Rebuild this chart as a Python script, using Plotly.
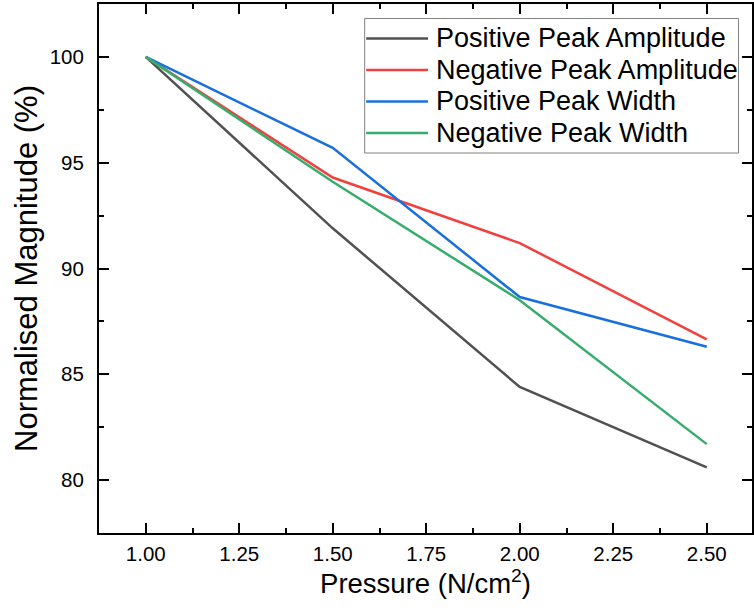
import plotly.graph_objects as go

pressure = [1.0, 1.5, 2.0, 2.5]
pos_peak_amp = [100, 91.9, 84.4, 80.6]
neg_peak_amp = [100, 94.3, 91.2, 86.65]
pos_peak_width = [100, 95.7, 88.65, 86.3]
neg_peak_width = [100, 94.1, 88.5, 81.7]

series_names = ["Positive Peak Amplitude", "Negative Peak Amplitude",
                "Positive Peak Width", "Negative Peak Width"]
series_values = [pos_peak_amp, neg_peak_amp, pos_peak_width, neg_peak_width]
series_colors = ["#515151", "#F14040", "#1A6FDF", "#37AD6B"]

FONT = "Liberation Sans, Arial, sans-serif"
W, H = 754, 612
ML, MR, MT, MB = 99, 0, 4, 79
PW, PH = W - ML - MR, H - MT - MB


def px_x(px):
    return (px - ML) / PW


def px_y(py):
    return (H - MB - py) / PH


fig = go.Figure()
for name, vals, col in zip(series_names, series_values, series_colors):
    fig.add_trace(go.Scatter(x=pressure, y=vals, mode="lines", name=name,
                             line=dict(color=col, width=2.5)))

axis_common = dict(
    showline=True, linecolor="black", linewidth=2, mirror="ticks",
    ticks="inside", ticklen=10, tickwidth=2, tickcolor="black",
    showgrid=False, zeroline=False,
    tickfont=dict(family=FONT, size=20.5, color="black"),
)

# legend (drawn as box + sample lines + text)
shapes = [dict(type="rect", xref="paper", yref="paper",
               x0=px_x(365.5), x1=px_x(740.5), y0=px_y(153), y1=px_y(18.5),
               line=dict(color="#808080", width=1), fillcolor="white", layer="above")]
annotations = []
row_y = [38.5, 70, 101.5, 133]
for name, col, ry in zip(series_names, series_colors, row_y):
    shapes.append(dict(type="line", xref="paper", yref="paper",
                       x0=px_x(367), x1=px_x(429), y0=px_y(ry), y1=px_y(ry),
                       line=dict(color=col, width=2.5), layer="above"))
    annotations.append(dict(text=name, xref="paper", yref="paper",
                            x=px_x(435), y=px_y(ry), xanchor="left", yanchor="middle",
                            showarrow=False,
                            font=dict(family=FONT, size=27, color="black")))

fig.update_layout(
    width=W, height=H,
    margin=dict(l=ML, r=MR, t=MT, b=MB),
    paper_bgcolor="white", plot_bgcolor="white",
    font=dict(family=FONT, color="black"),
    xaxis=dict(range=[0.875, 2.621], tickvals=[1.0, 1.25, 1.5, 1.75, 2.0, 2.25, 2.5],
               ticktext=["1.00", "1.25", "1.50", "1.75", "2.00", "2.25", "2.50"],
               minor=dict(ticks="inside", ticklen=5, tickwidth=2, tickcolor="black", dtick=0.125),
               title=dict(text="Pressure (N/cm<sup>2</sup>)", font=dict(family=FONT, size=27.5), standoff=7),
               ticklabelstandoff=1,
               **axis_common),
    yaxis=dict(range=[77.5, 102.5], tickvals=[80, 85, 90, 95, 100],
               minor=dict(ticks="inside", ticklen=5, tickwidth=2, tickcolor="black", dtick=2.5),
               title=dict(text="Normalised Magnitude (%)", font=dict(family=FONT, size=31), standoff=3),
               ticklabelstandoff=9,
               **axis_common),
    shapes=shapes,
    annotations=annotations,
    showlegend=False,
)

fig.write_html("out.html")
